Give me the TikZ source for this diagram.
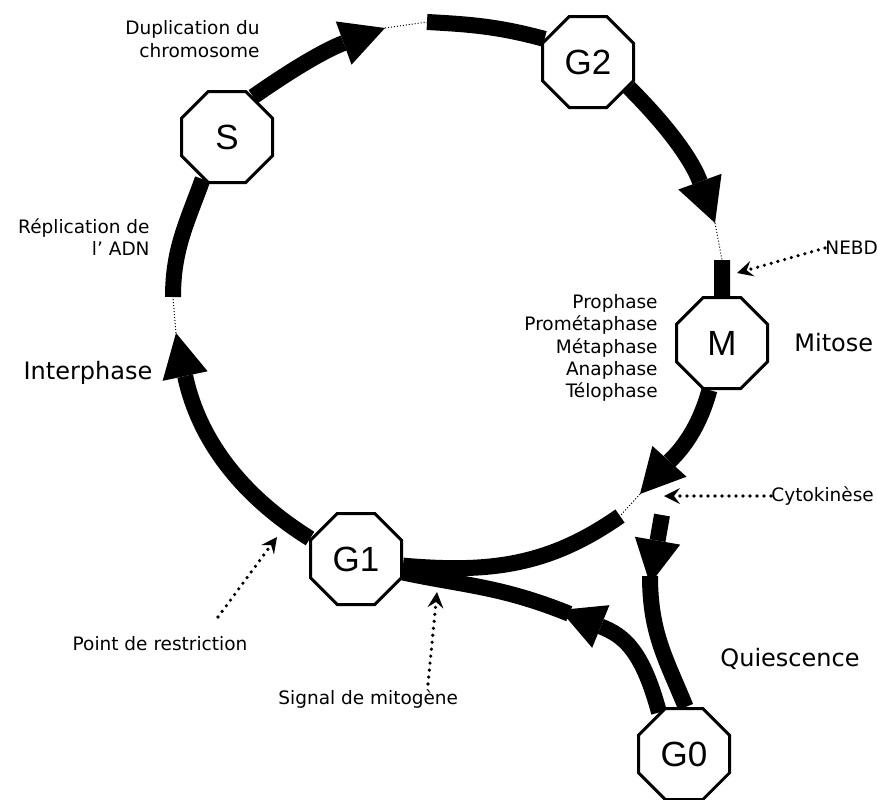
\documentclass[tikz,border=0pt]{standalone}
\usepackage{fontspec}
\setmainfont{DejaVu Sans}
\newfontfamily\octfont{Liberation Sans}
\usetikzlibrary{arrows.meta,shapes.geometric,backgrounds,positioning}

\begin{document}
\begin{tikzpicture}[x=0.5pt,y=-0.5pt,
    phase/.style={regular polygon,regular polygon sides=8,draw,fill=white,line width=1.5pt,minimum size=49.25pt,inner sep=0pt,font={\octfont\fontsize{17.5}{21}\selectfont}},
    cycle/.style={line width=8pt},
    head/.style={-{Triangle[length=22pt,width=23pt,line width=0pt]}},
    gap/.style={line width=0.5pt,densely dotted},
    note/.style={line width=1.8pt,line cap=round,dash pattern=on 0pt off 3.5pt,-{Stealth[length=8pt,width=8pt,inset=3pt,line width=0pt]}},
    small/.style={inner sep=0pt,font=\fontsize{9.25}{11.1}\selectfont},
    big/.style={inner sep=0pt,font=\fontsize{12}{14.4}\selectfont}]
    \useasboundingbox (0,0) rectangle (877,799);
                \node[phase] (S) at (227,137) {S};
                \node[phase] (G2) at (588,62) {G2};
                \node[phase] (M) at (722,343) {M};
                \node[phase] (G1) at (356,559) {G1};
                \node[phase] (G0) at (684,754) {G0};
                \coordinate (tipA) at (176,333);
                \coordinate (endA) at (173,297);
                \coordinate (tipS) at (385,28);
                \coordinate (endS) at (427,22);
                \coordinate (tipG) at (715,223);
                \coordinate (endG) at (722,260);
                \coordinate (tipM) at (640,494);
                \coordinate (endM) at (620,516);
                \coordinate (tipQ) at (560,610);
                \coordinate (cyto) at (662,515);
                \coordinate (tipC) at (650,584);
                \begin{scope}[on background layer]
                \draw[cycle,head] (G1.156) to[out=148,in=-78] (tipA);
                \draw[gap] (tipA) -- (endA);
                \draw[cycle] (endA) to[out=90,in=250] (S.240);
                \draw[cycle,head] (S.57) to[out=35,in=200] (tipS);
                \draw[gap] (tipS) -- (endS);
                \draw[cycle] (endS) to[out=-3,in=165] (G2.152);
                \draw[cycle,head] (G2.-32) to[out=-45,in=110] (tipG);
                \draw[gap] (tipG) -- (endG);
                \draw[cycle] (endG) -- (M.north);
                \draw[cycle,head] (M.-105) to[out=-105,in=48] (tipM);
                \draw[gap] (tipM) -- (endM);
                \draw[cycle] (endM) to[out=215,in=-5] (G1.-8);
                \draw[cycle,head] (G0.121) to[out=105,in=-22,looseness=1.2] (tipQ);
                \draw[cycle,shorten <=-5pt] (tipQ) to[out=158,in=-12] (G1.-16);
                \draw[cycle,head] (cyto) -- (tipC);
                \draw[cycle,shorten <=-4pt] (tipC) to[out=-90,in=112] (G0.88);
                \end{scope}
                \node[small,align=right,anchor=east] (dup) at (260,39) {Duplication du\\chromosome};
                \node[small,align=right,anchor=east] (rep) at (150,237) {Réplication de\\l' ADN};
                \node[big] (inter) at (88,373) {Interphase};
                \node[small,align=right,left=8.5pt of M,yshift=-2.5pt] (pro) {Prophase\\Prométaphase\\Métaphase\\Anaphase\\Télophase};
                \node[big,right=12.5pt of M] (mit) {Mitose};
                \node[small,anchor=west] (nebd) at (825,248) {NEBD};
                \node[small,anchor=west] (cyt) at (771,496) {Cytokinèse};
                \node[small] (rest) at (160,644) {Point de restriction};
                \node[small,anchor=west] (sig) at (278,699) {Signal de mitogène};
                \node[big] (qui) at (790,659) {Quiescence};
                \coordinate (nebdtip) at (737,273);
                \coordinate (cyttip) at (664,496);
                \coordinate (resttail) at (218,617);
                \coordinate (resttip) at (277,537);
                \coordinate (sigtail) at (428,684);
                \coordinate (sigtip) at (437,592);
                \draw[note] (nebd.west) -- (nebdtip);
                \draw[note] (cyt.west) -- (cyttip);
                \draw[note] (resttail) -- (resttip);
                \draw[note] (sigtail) -- (sigtip);
            \end{tikzpicture}
\end{document}
